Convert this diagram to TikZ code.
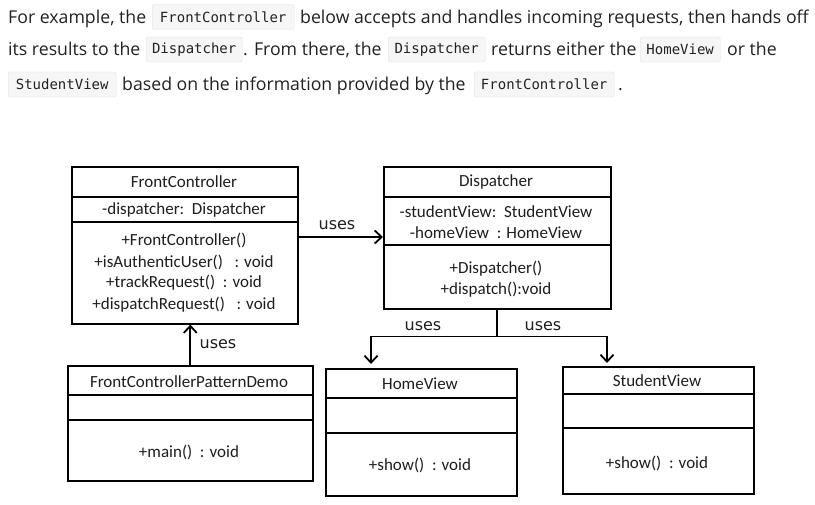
\documentclass[tikz,border=0pt]{standalone}
\usepackage{fontspec}
\setmainfont{Open Sans}
\setmonofont{DejaVu Sans Mono}
\newfontfamily\umlfont{Carlito}
\newfontfamily\usesfont{DejaVu Sans}
\usetikzlibrary{calc,arrows.meta}
\definecolor{codebg}{HTML}{F6F6F6}
\definecolor{codeline}{HTML}{E2E2E2}
\definecolor{bodyink}{HTML}{222222}
\definecolor{umlink}{HTML}{1E1E1E}
\begin{document}
\begin{tikzpicture}
[x=1pt,y=-1pt,
  bodytext/.style={anchor=base west,inner sep=0pt,text=bodyink,font=\fontsize{17.7}{20}\selectfont},%
  codebox/.style={anchor=west,draw=codeline,fill=codebg,rounded corners=2pt,inner sep=0pt,
    minimum height=25pt,text=bodyink,font=\ttfamily\fontsize{14}{16}\selectfont},%
  classbox/.style={anchor=north west,draw,line width=1.6pt,inner sep=0pt},%
  member/.style={inner sep=0pt,text=umlink,font=\umlfont\fontsize{17}{19}\selectfont},%
  useslabel/.style={inner sep=0pt,text=umlink,font=\usesfont\fontsize{16}{18}\selectfont},%
  divider/.style={line width=1.6pt},%
  arrowdecorate/.style={-{Straight Barb[length=7pt,width=13pt,line width=1.8pt]},line width=1.8pt}]
\useasboundingbox[fill=white] (0,0) rectangle (815,505);
% text above the diagram
\node (t1a) at (8,23.5) [bodytext] {For example, the};
\node (c1a) at (152,17) [codebox,minimum width=142pt] {FrontController};
\node (t1b) at (300,23.5) [bodytext] {below accepts and handles incoming requests, then hands off};
\node (t2a) at (8,56) [bodytext] {its results to the};
\node (c2a) at (146,49.5) [codebox,minimum width=96pt] {Dispatcher};
\node (t2b) at (243,56) [bodytext] {. From there, the};
\node (c2b) at (388,49.5) [codebox,minimum width=97pt] {Dispatcher};
\node (t2c) at (491,56) [bodytext] {returns either the};
\node (c2c) at (640,49.5) [codebox,minimum width=80pt] {HomeView};
\node (t2d) at (727,56) [bodytext] {or the};
\node (c3a) at (8,84.5) [codebox,minimum width=108pt] {StudentView};
\node (t3a) at (122,90.5) [bodytext] {based on the information provided by the};
\node (c3b) at (474,84.5) [codebox,minimum width=140pt] {FrontController};
\node (t3b) at (618,90.5) [bodytext] {.};
% class boxes
\node (fc) at (71,166) [classbox,minimum width=226pt,minimum height=157pt] {};
\draw[divider] ($(fc.north west)+(0,31)$) -- ($(fc.north east)+(0,31)$);
\draw[divider] ($(fc.north west)+(0,56)$) -- ($(fc.north east)+(0,56)$);
\node (fcname) at (184,182) [member] {FrontController};
\node (fcattr) at (184,210) [member] {-dispatcher:\ \ Dispatcher};
\node (fcm1) at (184,240) [member] {+FrontController()};
\node (fcm2) at (184,262) [member] {+isAuthenticUser()\ \ \ : void};
\node (fcm3) at (184,283) [member] {+trackRequest()\ \ : void};
\node (fcm4) at (184,305) [member] {+dispatchRequest()\ \ \ : void};
\node (disp) at (383,166) [classbox,minimum width=227pt,minimum height=142pt] {};
\draw[divider] ($(disp.north west)+(0,31)$) -- ($(disp.north east)+(0,31)$);
\draw[divider] ($(disp.north west)+(0,79)$) -- ($(disp.north east)+(0,79)$);
\node (dispname) at (496,182) [member] {Dispatcher};
\node (dispattr1) at (496,212) [member] {-studentView:\ \ StudentView};
\node (dispattr2) at (496,233) [member] {-homeView\ \ : HomeView};
\node (dispm1) at (496,269) [member] {+Dispatcher()};
\node (dispm2) at (496,290) [member] {+dispatch():void};
\node (demo) at (67,365) [classbox,minimum width=245pt,minimum height=115pt] {};
\draw[divider] ($(demo.north west)+(0,30)$) -- ($(demo.north east)+(0,30)$);
\draw[divider] ($(demo.north west)+(0,55)$) -- ($(demo.north east)+(0,55)$);
\node (demoname) at (189,382) [member] {FrontControllerPatternDemo};
\node (demom1) at (189,452) [member] {+main()\ \ : void};
\node (hv) at (325,368) [classbox,minimum width=191pt,minimum height=127pt] {};
\draw[divider] ($(hv.north west)+(0,30)$) -- ($(hv.north east)+(0,30)$);
\draw[divider] ($(hv.north west)+(0,65)$) -- ($(hv.north east)+(0,65)$);
\node (hvname) at (420,384) [member] {HomeView};
\node (hvm1) at (420,465) [member] {+show()\ \ : void};
\node (sv) at (562,366) [classbox,minimum width=191pt,minimum height=127pt] {};
\draw[divider] ($(sv.north west)+(0,28)$) -- ($(sv.north east)+(0,28)$);
\draw[divider] ($(sv.north west)+(0,62)$) -- ($(sv.north east)+(0,62)$);
\node (svname) at (657,381) [member] {StudentView};
\node (svm1) at (657,463) [member] {+show()\ \ : void};
% connectors
\coordinate (split) at ($(disp.south)+(0,27)$);
\draw[arrowdecorate] ([yshift=-71pt]fc.north east) -- ([yshift=-71pt]disp.north west);
\draw[arrowdecorate] (demo.north) -- (demo.north |- fc.south);
\draw[divider,line width=1.8pt] (disp.south) -- (split);
\draw[arrowdecorate,shorten >=4pt] (split) -| ([xshift=46pt]hv.north west);
\draw[arrowdecorate,shorten >=3pt] (split) -| ([xshift=45pt]sv.north west);
% labels
\node (uses1) at (337,225) [useslabel] {uses};
\node (uses2) at (218,344) [useslabel] {uses};
\node (uses3) at (423,326) [useslabel] {uses};
\node (uses4) at (543,326) [useslabel] {uses};
\end{tikzpicture}
\end{document}
